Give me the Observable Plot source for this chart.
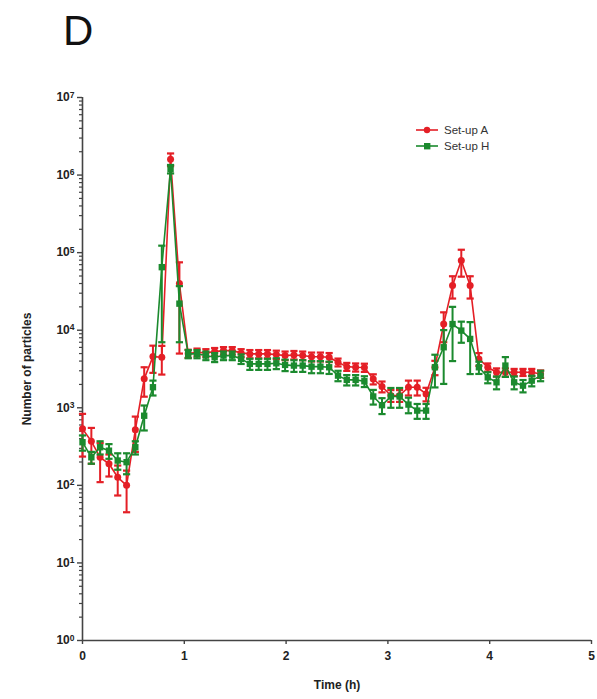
<!DOCTYPE html>
<html>
<head>
<meta charset="utf-8">
<script src="https://cdn.jsdelivr.net/npm/d3@7"></script>
<script src="https://cdn.jsdelivr.net/npm/@observablehq/plot@0.6"></script>
<style>
  html, body { margin: 0; padding: 0; background: #fff; }
  #wrap { position: relative; width: 597px; height: 699px; font-family: "Liberation Sans", Arial, sans-serif; }
  #panel { position: absolute; left: 63px; top: 10px; font-size: 42px; line-height: 1; color: #111; }
  #chart { position: absolute; left: 0; top: 60px; }
  #legend { position: absolute; left: 416px; top: 122px; font-size: 11.5px; color: #333; }
  .item { display: flex; align-items: center; height: 16px; }
  .item svg { margin-right: 6px; }
</style>
</head>
<body>
<div id="wrap">
  <div id="panel">D</div>
  <div id="chart"></div>
  <div id="legend"></div>
</div>
<script>
// Time points (h)
const times = [0, 0.087, 0.173, 0.260, 0.346, 0.433, 0.519, 0.606, 0.692, 0.779,
  0.865, 0.952, 1.038, 1.125, 1.212, 1.298, 1.385, 1.471, 1.558, 1.644,
  1.731, 1.817, 1.904, 1.990, 2.077, 2.163, 2.250, 2.337, 2.423, 2.510,
  2.596, 2.683, 2.769, 2.856, 2.942, 3.029, 3.115, 3.202, 3.288, 3.375,
  3.462, 3.548, 3.635, 3.721, 3.808, 3.894, 3.981, 4.067, 4.154, 4.240,
  4.327, 4.413, 4.500];

// Set-up A (red): mean and SD
const setupA = [535, 370, 230, 190, 127, 100, 520, 2360, 4570, 4480,
  1600000, 40000, 5000, 5200, 5100, 5300, 5460, 5460, 5100, 4950,
  4950, 4950, 4850, 4710, 4800, 4710, 4550, 4550, 4480, 3860,
  3390, 3330, 3300, 2350, 1880, 1440, 1440, 1840, 1840, 1510,
  3330, 12000, 37600, 79000, 37600, 4270, 3330, 2870, 2870, 2870,
  2870, 2870, 2730];
const setupA_sd = [300, 180, 120, 60, 53, 55, 250, 970, 1750, 1800,
  300000, 35000, 600, 600, 600, 600, 600, 600, 600, 600,
  600, 600, 600, 600, 600, 600, 600, 600, 600, 450,
  400, 400, 400, 350, 300, 250, 250, 400, 400, 300,
  700, 5000, 12000, 30000, 12000, 800, 400, 350, 350, 300,
  300, 300, 300];

// Set-up H (green): mean and SD
const setupH = [360, 230, 310, 280, 209, 199, 310, 790, 1840, 65000,
  1200000, 22000, 4950, 4950, 4710, 4480, 4710, 4710, 4270, 3680,
  3680, 3680, 3750, 3570, 3500, 3500, 3390, 3390, 3330, 2600,
  2290, 2290, 2200, 1400, 1080, 1400, 1400, 1100, 920, 920,
  3330, 6030, 12000, 9890, 7720, 3330, 2470, 2130, 3500, 2130,
  1930, 2240, 2600];
const setupH_sd = [80, 40, 60, 60, 50, 60, 60, 280, 400, 58000,
  150000, 15000, 600, 600, 600, 600, 600, 600, 600, 600,
  600, 600, 600, 600, 600, 600, 600, 600, 600, 400,
  350, 350, 350, 300, 250, 400, 400, 250, 200, 200,
  1500, 4000, 8000, 3000, 5000, 600, 400, 400, 1000, 400,
  350, 350, 400];

const seriesNames = ["Set-up A", "Set-up H"];
const xTicks = [0, 1, 2, 3, 4, 5];
const yMajorTicks = [1, 10, 100, 1000, 10000, 100000, 1000000, 10000000];

const RED = "#e41f26";
const GREEN = "#1b8a2e";

function rows(means, sds) {
  return times.map((t, i) => ({
    t, v: means[i],
    lo: Math.max(means[i] - sds[i], 1), hi: means[i] + sds[i]
  }));
}
const dataA = rows(setupA, setupA_sd);
const dataH = rows(setupH, setupH_sd);

const capSymbol = {
  draw(context, size) {
    const r = Math.sqrt(size / Math.PI);
    context.moveTo(-r, 0);
    context.lineTo(r, 0);
  }
};

const yMinorTicks = [];
for (let k = 0; k < 7; k++) for (let m = 2; m <= 9; m++) yMinorTicks.push(m * 10 ** k);

function seriesMarks(data, color, symbol, r) {
  return [
    Plot.ruleX(data, {x: "t", y1: "lo", y2: "hi", stroke: color, strokeWidth: 2}),
    Plot.dot(data, {x: "t", y: "lo", symbol: capSymbol, r: 3.6, stroke: color, strokeWidth: 2.2}),
    Plot.dot(data, {x: "t", y: "hi", symbol: capSymbol, r: 3.6, stroke: color, strokeWidth: 2.2}),
    Plot.line(data, {x: "t", y: "v", stroke: color, strokeWidth: 1.6}),
    Plot.dot(data, {x: "t", y: "v", symbol, r, fill: color, stroke: "none"})
  ];
}

const chart = Plot.plot({
  width: 597,
  height: 639,
  marginLeft: 82,
  marginRight: 6,
  marginTop: 37,
  marginBottom: 59,
  style: {fontFamily: "'Liberation Sans', Arial, sans-serif", color: "#222", background: "#fff"},
  x: {domain: [0, 5]},
  y: {type: "log", domain: [1, 1e7]},
  marks: [
    Plot.axisY({ticks: yMinorTicks, tickSize: 3, tickFormat: () => "", label: null, stroke: "#444", strokeWidth: 1.2}),
    Plot.axisY({ticks: yMajorTicks, tickSize: 5, tickPadding: 3,
      tickFormat: d => "10|" + Math.round(Math.log10(d)),
      fontSize: 12, fontWeight: "bold", stroke: "#444", strokeWidth: 1.4,
      label: "Number of particles", labelAnchor: "center", labelArrow: "none", labelOffset: 60}),
    Plot.axisX({ticks: xTicks, tickSize: 4, tickPadding: 7, tickFormat: d => String(d),
      fontSize: 12, fontWeight: "bold", stroke: "#444", strokeWidth: 1.4,
      label: "Time (h)", labelAnchor: "center", labelArrow: "none", labelOffset: 48}),
    Plot.ruleX([0], {stroke: "#444", strokeWidth: 1.6}),
    Plot.ruleY([1], {stroke: "#444", strokeWidth: 1.6}),
    ...seriesMarks(dataA, RED, "circle", 3.5),
    ...seriesMarks(dataH, GREEN, "square", 3.6)
  ]
});

// superscript exponents on the y tick labels
chart.querySelectorAll("text").forEach(el => {
  const s = el.textContent;
  if (/^10\|\d$/.test(s)) {
    const exp = s.split("|")[1];
    el.textContent = "";
    const ns = "http://www.w3.org/2000/svg";
    const base = document.createElementNS(ns, "tspan");
    base.textContent = "10";
    const sup = document.createElementNS(ns, "tspan");
    sup.textContent = exp;
    sup.setAttribute("dy", "-0.45em");
    sup.setAttribute("font-size", "8.5");
    el.appendChild(base);
    el.appendChild(sup);
  }
});
document.getElementById("chart").appendChild(chart);

// legend
const legend = document.getElementById("legend");
[[seriesNames[0], RED, "circle"], [seriesNames[1], GREEN, "square"]].forEach(([name, color, shape]) => {
  const item = document.createElement("div");
  item.className = "item";
  const mark = shape === "circle"
    ? `<circle cx="11" cy="5" r="3.2" fill="${color}"/>`
    : `<rect x="8" y="2" width="6.4" height="6.4" fill="${color}"/>`;
  item.innerHTML = `<svg width="22" height="10"><line x1="0" y1="5" x2="22" y2="5" stroke="${color}" stroke-width="1.6"/>${mark}</svg><span>${name}</span>`;
  legend.appendChild(item);
});
</script>
</body>
</html>
